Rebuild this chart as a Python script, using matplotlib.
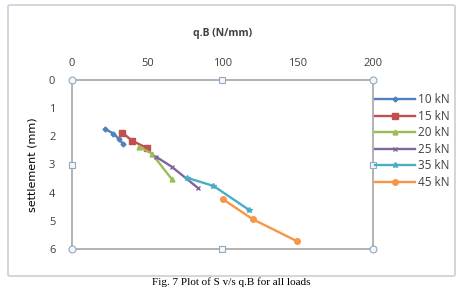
import matplotlib
matplotlib.use("Agg")
import matplotlib.pyplot as plt
from matplotlib.patches import FancyBboxPatch

# values
loads = ["10 kN", "15 kN", "20 kN", "25 kN", "35 kN", "45 kN"]
qb_10 = [22, 27.5, 31, 34]
s_10 = [1.74, 1.9, 2.08, 2.28]
qb_15 = [33.5, 40, 49.7]
s_15 = [1.87, 2.16, 2.41]
qb_20 = [44.5, 53, 66.3]
s_20 = [2.37, 2.61, 3.52]
qb_25 = [56, 66.3, 83.4]
s_25 = [2.73, 3.08, 3.82]
qb_35 = [76.3, 94, 117.3]
s_35 = [3.47, 3.76, 4.6]
qb_45 = [100.2, 120, 149.4]
s_45 = [4.23, 4.94, 5.72]

x_vals = [qb_10, qb_15, qb_20, qb_25, qb_35, qb_45]
y_vals = [s_10, s_15, s_20, s_25, s_35, s_45]
colors = ["#4F81BD", "#C0504D", "#9BBB59", "#8064A2", "#4BACC6", "#F79646"]
markers = ["D", "s", "^", "x", "*", "o"]
msizes = [2.5, 4.5, 3.5, 3.5, 4, 4]

plt.rcParams['font.family'] = ['Open Sans', 'DejaVu Sans']

fig = plt.figure(figsize=(4.62, 2.88), dpi=100)
ax = fig.add_axes([72 / 462, 1 - 249 / 288, 301 / 462, 169 / 288])

# chart frame
frame = FancyBboxPatch((8 / 462, 12 / 288), 447 / 462, 271 / 288,
                       boxstyle="round,pad=0,rounding_size=0.005",
                       transform=fig.transFigure, fill=False,
                       edgecolor="#C8D0D8", linewidth=1.2)
fig.patches.append(frame)

for xs, ys, c, m, ms, lab in zip(x_vals, y_vals, colors, markers, msizes, loads):
    ax.plot(xs, ys, color=c, marker=m, markersize=ms, linewidth=1.7,
            markeredgecolor=c, label=lab)

ax.set_xlim(0, 200)
ax.set_ylim(6, 0)
ax.xaxis.tick_top()
ax.xaxis.set_label_position("top")
ax.set_xticks([0, 50, 100, 150, 200])
ax.set_yticks([0, 1, 2, 3, 4, 5, 6])
ax.tick_params(length=0, labelsize=8, colors="#404040")
ax.tick_params(axis="x", pad=8)
ax.tick_params(axis="y", pad=12)
for sp in ax.spines.values():
    sp.set_color("#A6A6A6")
    sp.set_linewidth(1.2)

ax.set_xlabel("q.B (N/mm)", fontsize=7.5, fontweight="bold", color="#404040", labelpad=16)
ax.set_ylabel("settlement (mm)", fontsize=8, color="black",
              family=["Liberation Sans Narrow", "DejaVu Sans"], labelpad=8)

# selection handles on the plot area
hx = [0, 0.5, 1, 1, 1, 0.5, 0, 0]
hy = [1, 1, 1, 0.5, 0, 0, 0, 0.5]
hm = ["o", "s", "o", "s", "o", "s", "o", "s"]
for x, y, m in zip(hx, hy, hm):
    ax.plot(x, y, marker=m, markersize=5 if m == "o" else 4, transform=ax.transAxes,
            markerfacecolor="#F4F8FC", markeredgecolor="#90A8C0",
            markeredgewidth=0.8, clip_on=False, zorder=5)

leg = ax.legend(loc="upper left", bbox_to_anchor=(0.99, 0.95), frameon=False,
                fontsize=8.5, handlelength=3.4, labelspacing=0.3,
                borderaxespad=0, handletextpad=0.25)
for t in leg.get_texts():
    t.set_color("#404040")

fig.text(0.5, 1 - 287 / 288, "Fig. 7 Plot of S v/s q.B for all loads", ha="center",
         va="bottom", fontsize=8, family="Liberation Serif")

fig.savefig("out.png", dpi=100)
